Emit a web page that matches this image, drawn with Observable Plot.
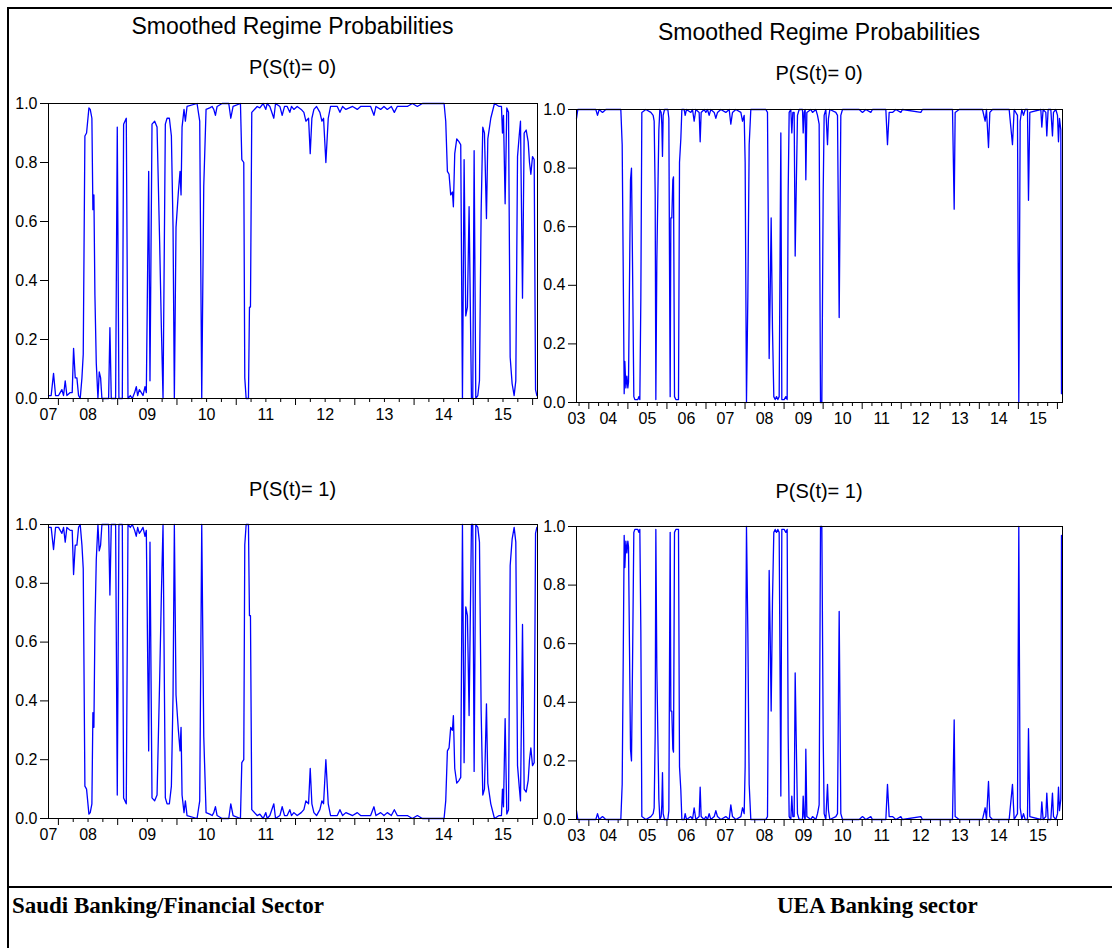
<!DOCTYPE html>
<html>
<head>
<meta charset="utf-8">
<script src="https://cdn.jsdelivr.net/npm/d3@7"></script>
<script src="https://cdn.jsdelivr.net/npm/@observablehq/plot@0.6"></script>
<style>
  body { margin: 0; background: #fff; }
  #fig { position: relative; width: 1112px; height: 948px; background: #fff; overflow: hidden;
         font-family: "Liberation Sans", Arial, sans-serif; color: #000; }
  .abs { position: absolute; }
  .title { font-size: 23px; line-height: 1; text-align: center; white-space: nowrap; }
  .sub { font-size: 20px; line-height: 1; text-align: center; white-space: nowrap; }
  .cap { font-family: "Liberation Serif", "Times New Roman", serif; font-weight: bold; font-size: 23px;
         line-height: 1; white-space: nowrap; }
</style>
</head>
<body>
<div id="fig"></div>
<script>
// Saudi banking/financial sector, weekly smoothed regime probabilities
const saudiSpan = [2007.833, 2016.082];
const saudiYearLabels = ["07", "08", "09", "10", "11", "12", "13", "14", "15"];
const saudiDates = [
  2007.833,2007.878,2007.918,2007.952,2008.002,2008.030,2008.059,2008.087,2008.115,2008.143,
  2008.199,2008.233,2008.256,2008.284,2008.312,2008.340,2008.368,2008.397,2008.419,2008.447,
  2008.475,2008.515,2008.537,2008.565,2008.582,2008.599,2008.616,2008.639,2008.667,2008.689,
  2008.712,2008.734,2008.847,2008.869,2008.892,2008.965,2008.993,2009.021,2009.078,2009.100,
  2009.145,2009.174,2009.213,2009.247,2009.286,2009.314,2009.337,2009.365,2009.399,2009.427,
  2009.461,2009.483,2009.523,2009.545,2009.579,2009.624,2009.664,2009.708,2009.737,2009.765,
  2009.804,2009.833,2009.872,2009.906,2009.934,2009.956,2009.984,2010.024,2010.052,2010.069,
  2010.086,2010.119,2010.142,2010.170,2010.339,2010.384,2010.418,2010.452,2010.491,2010.553,
  2010.593,2010.621,2010.649,2010.677,2010.762,2010.874,2010.908,2010.947,2011.071,2011.094,
  2011.127,2011.144,2011.167,2011.206,2011.223,2011.240,2011.262,2011.353,2011.398,2011.454,
  2011.499,2011.522,2011.567,2011.634,2011.663,2011.736,2011.775,2011.815,
  2011.859,2011.904,2011.932,2011.972,2012.028,2012.096,2012.141,2012.175,2012.220,2012.248,
  2012.276,2012.310,2012.355,2012.411,2012.445,2012.473,2012.512,2012.552,2012.591,2012.704,
  2012.749,2012.794,2012.850,2012.907,2012.963,2013.042,2013.098,2013.188,2013.267,2013.323,
  2013.357,2013.436,2013.492,2013.548,2013.616,2013.667,2013.717,2013.802,2013.886,2013.971,
  2014.055,2014.140,2014.506,2014.534,2014.562,2014.590,2014.618,2014.647,2014.663,2014.686,
  2014.720,2014.759,2014.787,2014.816,2014.844,2014.872,2014.900,2014.928,2014.968,2014.990,
  2015.013,2015.041,2015.075,2015.103,2015.131,2015.159,2015.187,2015.221,2015.244,2015.294,
  2015.356,2015.435,2015.474,2015.491,2015.508,2015.536,2015.564,2015.593,2015.621,2015.654,
  2015.688,2015.716,2015.745,2015.773,2015.795,2015.829,2015.857,2015.891,2015.925,2015.947,
  2015.970,2015.998,2016.026,2016.049,2016.071
];
// P(S(t)=0)
const saudiP0 = [
  0.01,0.01,0.085,0.01,0.01,0.02,0.03,0.01,0.06,0.01,
  0.02,0.02,0.17,0.07,0.07,0.01,0.00,0.07,0.15,0.89,
  0.90,0.985,0.98,0.95,0.64,0.69,0.35,0.12,0.00,0.09,
  0.07,0.00,0.00,0.24,0.00,0.00,0.92,0.00,0.00,0.93,
  0.95,0.00,0.01,0.00,0.02,0.04,0.01,0.03,0.02,0.01,
  0.04,0.02,0.77,0.06,0.93,0.94,0.92,0.53,0.24,0.00,
  0.93,0.95,0.95,0.89,0.58,0.00,0.58,0.70,0.77,0.69,
  0.92,0.98,0.94,0.99,1.00,0.94,0.00,0.72,0.98,0.985,
  0.99,0.98,0.96,0.99,1.00,1.00,0.95,0.99,1.00,0.81,
  0.80,0.07,0.00,0.00,0.31,0.31,0.97,0.99,0.985,1.00,
  0.98,1.00,0.99,0.95,1.00,0.99,0.96,0.99,
  0.99,0.97,0.99,0.98,0.99,0.98,0.97,0.94,0.95,0.83,
  0.95,0.98,0.99,0.97,0.94,0.95,0.80,0.95,0.99,0.99,
  0.97,0.99,0.98,0.985,0.99,0.98,0.99,0.99,0.99,0.96,
  0.99,0.98,0.99,0.98,0.99,0.97,0.99,0.99,0.99,1.00,
  0.99,1.00,1.00,0.94,0.77,0.76,0.69,0.70,0.65,0.83,
  0.88,0.87,0.86,0.00,0.81,0.28,0.31,0.65,0.00,0.00,
  0.84,0.00,0.01,0.06,0.63,0.92,0.90,0.61,0.88,0.95,
  1.00,0.99,0.99,0.90,0.96,0.66,0.985,0.97,0.14,0.05,
  0.01,0.06,0.82,0.89,0.94,0.34,0.90,0.91,0.87,0.80,
  0.76,0.82,0.81,0.03,0.01
];
// P(S(t)=1)
const saudiP1 = [
  0.99,0.99,0.915,0.99,0.99,0.98,0.97,0.99,0.94,0.99,
  0.98,0.98,0.83,0.93,0.93,0.99,1.00,0.93,0.85,0.11,
  0.10,0.015,0.02,0.05,0.36,0.31,0.65,0.88,1.00,0.91,
  0.93,1.00,1.00,0.76,1.00,1.00,0.08,1.00,1.00,0.07,
  0.05,1.00,0.99,1.00,0.98,0.96,0.99,0.97,0.98,0.99,
  0.96,0.98,0.23,0.94,0.07,0.06,0.08,0.47,0.76,1.00,
  0.07,0.05,0.05,0.11,0.42,1.00,0.42,0.30,0.23,0.31,
  0.08,0.02,0.06,0.01,0.00,0.06,1.00,0.28,0.02,0.015,
  0.01,0.02,0.04,0.01,0.00,0.00,0.05,0.01,0.00,0.19,
  0.20,0.93,1.00,1.00,0.69,0.69,0.03,0.01,0.015,0.00,
  0.02,0.00,0.01,0.05,0.00,0.01,0.04,0.01,
  0.01,0.03,0.01,0.02,0.01,0.02,0.03,0.06,0.05,0.17,
  0.05,0.02,0.01,0.03,0.06,0.05,0.20,0.05,0.01,0.01,
  0.03,0.01,0.02,0.015,0.01,0.02,0.01,0.01,0.01,0.04,
  0.01,0.02,0.01,0.02,0.01,0.03,0.01,0.01,0.01,0.00,
  0.01,0.00,0.00,0.06,0.23,0.24,0.31,0.30,0.35,0.17,
  0.12,0.13,0.14,1.00,0.19,0.72,0.69,0.35,1.00,1.00,
  0.16,1.00,0.99,0.94,0.37,0.08,0.10,0.39,0.12,0.05,
  0.00,0.01,0.01,0.10,0.04,0.34,0.015,0.03,0.86,0.95,
  0.99,0.94,0.18,0.11,0.06,0.66,0.10,0.09,0.13,0.20,
  0.24,0.18,0.19,0.97,0.99
];

// UAE banking sector, weekly smoothed regime probabilities
const uaeSpan = [2003.684, 2016.130];
const uaeYearLabels = ["03", "04", "05", "06", "07", "08", "09", "10", "11", "12", "13", "14", "15"];
const uaeDates = [
  2003.684,2003.718,2003.838,2004.009,2004.179,2004.222,2004.265,2004.350,2004.435,2004.777,
  2004.819,2004.854,2004.879,2004.905,2004.922,2004.948,2004.973,2004.999,2005.016,2005.041,
  2005.067,2005.092,2005.118,2005.152,2005.178,2005.255,2005.280,2005.306,2005.332,2005.357,
  2005.460,2005.588,2005.647,2005.673,2005.699,2005.716,2005.741,2005.767,2005.793,2005.818,
  2005.852,2005.869,2005.886,2005.903,2005.938,2006.023,2006.049,2006.066,2006.083,2006.100,
  2006.125,2006.151,2006.168,2006.194,2006.228,2006.296,2006.322,2006.356,2006.382,2006.441,
  2006.467,2006.501,2006.612,2006.655,2006.697,2006.740,2006.825,2006.851,2006.876,2006.953,
  2006.996,2007.039,2007.081,2007.124,2007.210,2007.252,2007.295,2007.380,2007.508,2007.594,
  2007.636,2007.679,2007.764,2007.893,2007.935,2007.978,2008.003,2008.037,2008.072,2008.106,
  2008.148,2008.277,2008.533,2008.575,2008.618,2008.643,2008.669,2008.703,2008.737,2008.772,
  2008.806,2008.840,2008.874,2008.917,2008.942,2009.002,2009.045,2009.079,2009.104,2009.130,
  2009.173,2009.198,2009.224,2009.258,2009.284,2009.309,2009.343,2009.386,2009.472,2009.489,
  2009.514,2009.540,2009.557,2009.583,2009.685,2009.728,2009.813,2009.856,2009.898,2009.933,
  2009.967,2010.001,2010.026,2010.069,2010.112,2010.137,2010.172,2010.325,2010.368,2010.411,
  2010.453,2010.496,2010.923,2011.008,2011.093,2011.221,2011.264,2011.606,2011.648,2011.691,
  2011.776,2011.862,2011.990,2012.032,2012.502,2012.545,2013.313,2013.356,2013.381,2013.484,
  2014.081,2014.149,2014.183,2014.235,2014.269,2014.337,2014.764,2014.849,2014.892,2014.977,
  2015.011,2015.046,2015.088,2015.131,2015.174,2015.233,2015.259,2015.293,2015.575,2015.600,
  2015.634,2015.703,2015.728,2015.762,2015.831,2015.873,2015.899,2015.959,2016.002,2016.027,
  2016.053,2016.087,2016.104
];
// P(S(t)=0)
const uaeP0 = [
  0.97,1.00,1.00,1.00,1.00,0.98,1.00,0.99,1.00,1.00,
  1.00,0.88,0.48,0.03,0.14,0.05,0.09,0.05,0.07,0.41,
  0.76,0.80,0.48,0.02,0.01,0.01,0.02,0.01,0.36,0.99,
  1.00,0.99,0.98,0.96,0.71,0.01,0.48,0.71,0.93,1.00,
  0.99,0.95,0.84,0.98,1.00,1.00,0.97,0.48,0.02,0.63,
  0.63,0.76,0.77,0.02,0.01,0.01,0.82,0.90,1.00,1.00,
  0.98,1.00,0.99,1.00,0.96,1.00,0.99,0.89,0.99,1.00,
  0.99,1.00,0.98,1.00,0.99,0.97,0.99,1.00,0.99,1.00,
  0.95,0.99,1.00,0.99,0.96,0.98,0.82,0.00,0.36,0.88,
  1.00,1.00,1.00,0.99,0.15,0.36,0.63,0.25,0.02,0.01,
  0.02,0.01,0.02,0.92,0.01,0.01,0.02,0.01,0.71,0.99,
  1.00,0.92,0.99,0.99,0.50,0.71,0.98,1.00,1.00,0.92,
  0.99,1.00,0.76,0.99,1.00,0.99,1.00,0.98,0.95,0.00,
  0.00,0.71,0.98,1.00,0.88,0.97,1.00,0.99,0.98,0.29,
  0.98,1.00,1.00,0.99,1.00,0.99,1.00,1.00,0.88,0.99,
  0.99,1.00,0.99,1.00,0.99,1.00,1.00,0.66,0.99,1.00,
  1.00,0.96,1.00,0.87,0.99,1.00,1.00,0.88,1.00,0.98,
  0.00,0.96,1.00,0.98,1.00,1.00,0.69,0.99,1.00,0.94,
  1.00,0.99,0.91,1.00,1.00,0.91,0.99,1.00,0.98,0.89,
  0.97,0.93,0.03
];
// P(S(t)=1)
const uaeP1 = [
  0.03,0.00,0.00,0.00,0.00,0.02,0.00,0.01,0.00,0.00,
  0.00,0.12,0.52,0.97,0.86,0.95,0.91,0.95,0.93,0.59,
  0.24,0.20,0.52,0.98,0.99,0.99,0.98,0.99,0.64,0.01,
  0.00,0.01,0.02,0.04,0.29,0.99,0.52,0.29,0.07,0.00,
  0.01,0.05,0.16,0.02,0.00,0.00,0.03,0.52,0.98,0.37,
  0.37,0.24,0.23,0.98,0.99,0.99,0.18,0.10,0.00,0.00,
  0.02,0.00,0.01,0.00,0.04,0.00,0.01,0.11,0.01,0.00,
  0.01,0.00,0.02,0.00,0.01,0.03,0.01,0.00,0.01,0.00,
  0.05,0.01,0.00,0.01,0.04,0.02,0.18,1.00,0.64,0.12,
  0.00,0.00,0.00,0.01,0.85,0.64,0.37,0.75,0.98,0.99,
  0.98,0.99,0.98,0.08,0.99,0.99,0.98,0.99,0.29,0.01,
  0.00,0.08,0.01,0.01,0.50,0.29,0.02,0.00,0.00,0.08,
  0.01,0.00,0.24,0.01,0.00,0.01,0.00,0.02,0.05,1.00,
  1.00,0.29,0.02,0.00,0.12,0.03,0.00,0.01,0.02,0.71,
  0.02,0.00,0.00,0.01,0.00,0.01,0.00,0.00,0.12,0.01,
  0.01,0.00,0.01,0.00,0.01,0.00,0.00,0.34,0.01,0.00,
  0.00,0.04,0.00,0.13,0.01,0.00,0.00,0.12,0.00,0.02,
  1.00,0.04,0.00,0.02,0.00,0.00,0.31,0.01,0.00,0.06,
  0.00,0.01,0.09,0.00,0.00,0.09,0.01,0.00,0.02,0.11,
  0.03,0.07,0.97
];

const yTicks = [0, 0.2, 0.4, 0.6, 0.8, 1.0];
const fig = document.getElementById("fig");

function addBox(cls, text, css) {
  const el = document.createElement("div");
  el.className = "abs " + cls;
  el.textContent = text;
  Object.assign(el.style, css);
  fig.appendChild(el);
  return el;
}

// One regime-probability panel: frame, y axis on the left, quarterly ticks and year labels below
function panel({dates, values, span, yearLabels, left, top, frameLeft, frameWidth, frameTop, frameHeight}) {
  const rows = dates.map((t, i) => ({t, p: values[i]}));
  const marginRight = 8, marginBottom = 40;
  const years = d3.range(Math.ceil(span[0]), Math.floor(span[1]) + 1);
  const quarters = d3.range(Math.ceil(span[0] * 4), Math.floor(span[1] * 4) + 1)
    .map(q => q / 4).filter(q => q % 1 !== 0);
  const labelAt = new Map(yearLabels.map(s => [Math.max(2000 + +s + 0.5, span[0]), s]));
  const svg = Plot.plot({
    width: frameLeft + frameWidth + marginRight,
    height: frameTop + frameHeight + marginBottom,
    marginLeft: frameLeft, marginRight, marginTop: frameTop, marginBottom,
    x: {domain: span},
    y: {domain: [0, 1]},
    style: {background: "transparent", overflow: "visible", color: "black",
            fontFamily: "'Liberation Sans', Arial, sans-serif", fontSize: "16px"},
    marks: [
      Plot.axisY(yTicks, {tickSize: 8, tickPadding: 3, tickFormat: d3.format(".1f"), fontSize: 16, label: null}),
      Plot.axisX(years, {tickSize: 7, tickFormat: () => "", label: null}),
      Plot.axisX(quarters, {tickSize: 4, tickFormat: () => "", label: null}),
      Plot.axisX([...labelAt.keys()], {tickSize: 0, tickPadding: 10, fontSize: 16,
        tickFormat: d => labelAt.get(d), label: null}),
      Plot.lineY(rows, {x: "t", y: "p", stroke: "#0000ff", strokeWidth: 1.3}),
      Plot.frame({stroke: "black", strokeWidth: 1})
    ]
  });
  const wrap = document.createElement("div");
  wrap.className = "abs";
  Object.assign(wrap.style, {left: left + "px", top: top + "px",
    width: (frameLeft + frameWidth + marginRight) + "px"});
  wrap.appendChild(svg);
  fig.appendChild(wrap);
}

// outer border and the caption rule
addBox("", "", {left: "7px", top: "7px", width: "1110px", height: "960px",
  borderLeft: "2px solid #000", borderTop: "2px solid #000"});
addBox("", "", {left: "7px", top: "886px", width: "1110px", height: "2px", background: "#000"});

// headings
addBox("title", "Smoothed Regime Probabilities", {left: "48px", width: "489px", top: "15px"});
addBox("title", "Smoothed Regime Probabilities", {left: "576px", width: "486px", top: "21px"});
addBox("sub", "P(S(t)= 0)", {left: "48px", width: "489px", top: "57px"});
addBox("sub", "P(S(t)= 0)", {left: "576px", width: "486px", top: "63px"});
addBox("sub", "P(S(t)= 1)", {left: "48px", width: "489px", top: "479px"});
addBox("sub", "P(S(t)= 1)", {left: "576px", width: "486px", top: "481px"});

panel({dates: saudiDates, values: saudiP0, span: saudiSpan, yearLabels: saudiYearLabels,
  left: 0, top: 90, frameLeft: 48, frameWidth: 489, frameTop: 13, frameHeight: 295});
panel({dates: uaeDates, values: uaeP0, span: uaeSpan, yearLabels: uaeYearLabels,
  left: 530, top: 96, frameLeft: 46, frameWidth: 486, frameTop: 13, frameHeight: 293});
panel({dates: saudiDates, values: saudiP1, span: saudiSpan, yearLabels: saudiYearLabels,
  left: 0, top: 511, frameLeft: 48, frameWidth: 489, frameTop: 13, frameHeight: 294});
panel({dates: uaeDates, values: uaeP1, span: uaeSpan, yearLabels: uaeYearLabels,
  left: 530, top: 513, frameLeft: 46, frameWidth: 486, frameTop: 13, frameHeight: 293});

// sector captions
addBox("cap", "Saudi Banking/Financial Sector", {left: "12px", top: "894px"});
addBox("cap", "UEA Banking sector", {left: "777px", top: "894px"});
</script>
</body>
</html>
